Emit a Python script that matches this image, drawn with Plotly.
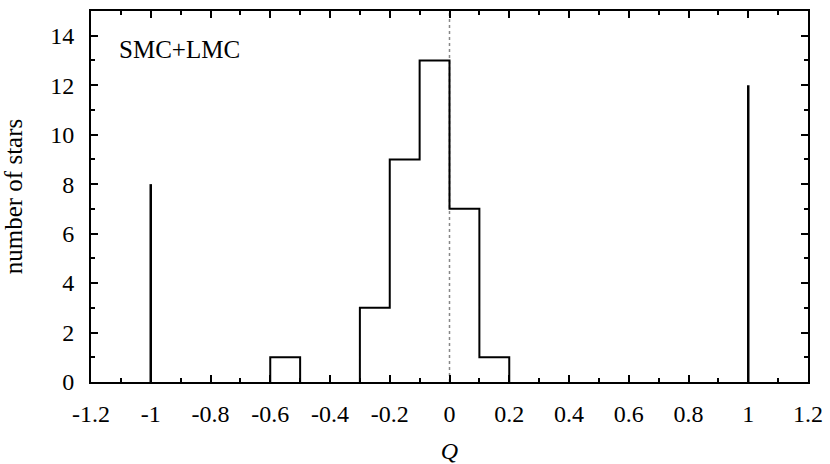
import plotly.graph_objects as go

# histogram of Q, bins of width 0.1
bin_edges = [-0.6, -0.5, -0.4, -0.3, -0.2, -0.1, 0.0, 0.1, 0.2]
counts = [1, 0, 0, 3, 9, 13, 7, 1]

# the two spikes at Q = -1 and Q = 1
spike_q = [-1.0, 1.0]
spike_n = [8, 12]

x_ticks = [-1.2, -1.0, -0.8, -0.6, -0.4, -0.2, 0.0, 0.2, 0.4, 0.6, 0.8, 1.0, 1.2]
x_labels = ["-1.2", "-1", "-0.8", "-0.6", "-0.4", "-0.2", "0", "0.2", "0.4", "0.6", "0.8", "1", "1.2"]
y_ticks = [0, 2, 4, 6, 8, 10, 12, 14]

# outline of the histogram, skipping empty bins so they don't double the axis line
step_x, step_y = [], []
prev = 0
for i, c in enumerate(counts):
    left, right = bin_edges[i], bin_edges[i + 1]
    if c != prev:
        step_x += [left, left]
        step_y += [prev, c]
    if c > 0:
        step_x += [left, right]
        step_y += [c, c]
    else:
        step_x.append(None)
        step_y.append(None)
    prev = c
step_x += [bin_edges[-1], bin_edges[-1]]
step_y += [prev, 0]

serif = "Liberation Serif"

fig = go.Figure()
fig.add_trace(go.Scatter(x=step_x, y=step_y, mode="lines",
                         line=dict(color="black", width=2), showlegend=False))
for q, n in zip(spike_q, spike_n):
    fig.add_trace(go.Scatter(x=[q, q], y=[0, n], mode="lines",
                             line=dict(color="black", width=2.5), showlegend=False))

fig.add_vline(x=0, line=dict(color="#888888", width=1.5, dash="dot"), layer="below")

axis_common = dict(showline=True, linecolor="black", linewidth=2, mirror="ticks",
                   ticks="inside", ticklen=7, tickwidth=2, tickcolor="black",
                   showgrid=False, zeroline=False, automargin=False,
                   tickfont=dict(family=serif, size=24, color="black"))

fig.update_xaxes(range=[-1.2, 1.2], tickvals=x_ticks, ticktext=x_labels,
                 minor=dict(ticks="inside", ticklen=4, tickwidth=2, dtick=0.1, tick0=-1.2,
                            tickcolor="black", showgrid=False),
                 title=dict(text="<i>Q</i>", standoff=16,
                            font=dict(family=serif, size=24, color="black")),
                 ticklabelstandoff=9,
                 **axis_common)
fig.update_yaxes(range=[0, 15], tickvals=y_ticks,
                 minor=dict(ticks="inside", ticklen=4, tickwidth=2, dtick=1, tick0=0,
                            tickcolor="black", showgrid=False),
                 title=dict(text="number of stars", standoff=26,
                            font=dict(family=serif, size=25, color="black")),
                 ticklabelstandoff=10,
                 **axis_common)

fig.add_annotation(x=0.036, y=0.895, xref="paper", yref="paper", text="SMC+LMC",
                   showarrow=False, xanchor="left", yanchor="middle",
                   font=dict(family=serif, size=25, color="black"))

fig.update_layout(width=830, height=464, template="plotly_white",
                  plot_bgcolor="white", paper_bgcolor="white",
                  font=dict(family=serif, size=21, color="black"),
                  margin=dict(l=91, r=22, t=11, b=82))

fig.write_html("out.html", config={"displayModeBar": False},
               post_script="document.body.style.margin = '0';")
